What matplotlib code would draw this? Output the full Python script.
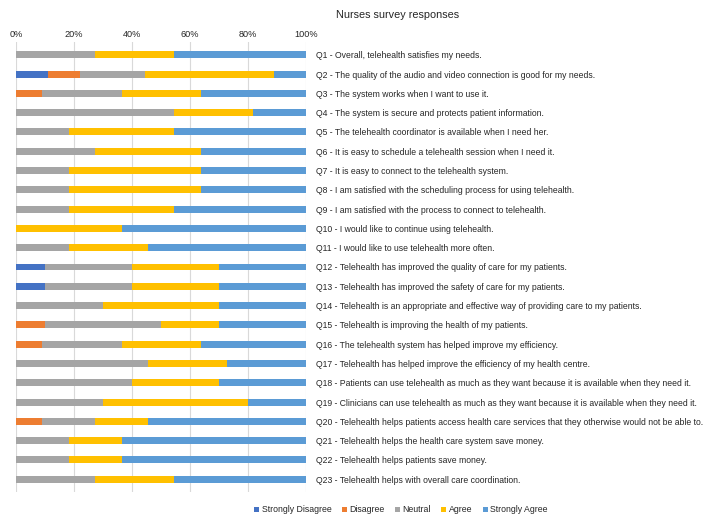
# Nurses survey responses - 100% stacked horizontal bars
import matplotlib
matplotlib.use("Agg")
import matplotlib.pyplot as plt
import numpy as np

questions = [
    "Q1 - Overall, telehealth satisfies my needs.",
    "Q2 - The quality of the audio and video connection is good for my needs.",
    "Q3 - The system works when I want to use it.",
    "Q4 - The system is secure and protects patient information.",
    "Q5 - The telehealth coordinator is available when I need her.",
    "Q6 - It is easy to schedule a telehealth session when I need it.",
    "Q7 - It is easy to connect to the telehealth system.",
    "Q8 - I am satisfied with the scheduling process for using telehealth.",
    "Q9 - I am satisfied with the process to connect to telehealth.",
    "Q10 - I would like to continue using telehealth.",
    "Q11 - I would like to use telehealth more often.",
    "Q12 - Telehealth has improved the quality of care for my patients.",
    "Q13 - Telehealth has improved the safety of care for my patients.",
    "Q14 - Telehealth is an appropriate and effective way of providing care to my patients.",
    "Q15 - Telehealth is improving the health of my patients.",
    "Q16 - The telehealth system has helped improve my efficiency.",
    "Q17 - Telehealth has helped improve the efficiency of my health centre.",
    "Q18 - Patients can use telehealth as much as they want because it is available when they need it.",
    "Q19 - Clinicians can use telehealth as much as they want because it is available when they need it.",
    "Q20 - Telehealth helps patients access health care services that they otherwise would not be able to.",
    "Q21 - Telehealth helps the health care system save money.",
    "Q22 - Telehealth helps patients save money.",
    "Q23 - Telehealth helps with overall care coordination.",
]

# percentages
strongly_disagree = [0, 11.1, 0, 0, 0, 0, 0, 0, 0, 0, 0, 10, 10, 0, 0, 0, 0, 0, 0, 0, 0, 0, 0]
disagree = [0, 11.1, 9.1, 0, 0, 0, 0, 0, 0, 0, 0, 0, 0, 0, 10, 9.1, 0, 0, 0, 9.1, 0, 0, 0]
neutral = [27.3, 22.2, 27.3, 54.5, 18.2, 27.3, 18.2, 18.2, 18.2, 0, 18.2, 30, 30, 30, 40,
           27.3, 45.5, 40, 30, 18.2, 18.2, 18.2, 27.3]
agree = [27.3, 44.4, 27.3, 27.3, 36.4, 36.4, 45.5, 45.5, 36.4, 36.4, 27.3, 30, 30, 40, 20,
         27.3, 27.3, 30, 50, 18.2, 18.2, 18.2, 27.3]
strongly_agree = [45.4, 11.2, 36.3, 18.2, 45.4, 36.3, 36.3, 36.3, 45.4, 63.6, 54.5, 30, 30, 30, 30,
                  36.3, 27.2, 30, 20, 54.5, 63.6, 63.6, 45.4]

series = ["Strongly Disagree", "Disagree", "Neutral", "Agree", "Strongly Agree"]
colors = ["#4472C4", "#ED7D31", "#A5A5A5", "#FFC000", "#5B9BD5"]

plt.rcParams['font.family'] = ['Liberation Sans', 'DejaVu Sans']
txt = "#262626"

fig = plt.figure(figsize=(7.28, 5.23), dpi=100)
ax = fig.add_axes([16 / 728, 1 - 492 / 523, 290 / 728, 450 / 523])

y = np.arange(len(questions))
left = np.zeros(len(questions))
for name, vals, c in zip(series, [strongly_disagree, disagree, neutral, agree, strongly_agree], colors):
    vals = np.array(vals)
    ax.barh(y, vals, left=left, height=0.36, color=c, label=name, zorder=3)
    left += vals

ax.set_xlim(0, 100)
ax.set_ylim(len(questions) - 0.34, -0.66)
ax.set_xticks([0, 20, 40, 60, 80, 100])
ax.set_xticklabels(["0%", "20%", "40%", "60%", "80%", "100%"], fontsize=6.6, color=txt)
ax.xaxis.tick_top()
ax.tick_params(axis='x', length=0, pad=2)
ax.set_yticks(y)
ax.set_yticklabels(questions, fontsize=6.2, color=txt)
ax.yaxis.tick_right()
ax.tick_params(axis='y', length=0, pad=7)
ax.grid(axis='x', color="#d9d9d9", linewidth=0.8, zorder=0)
for s in ax.spines.values():
    s.set_visible(False)

fig.text(398 / 728, 1 - 15 / 523, "Nurses survey responses", ha='center', va='center',
         fontsize=7.8, color=txt)

fig.legend(loc='center', bbox_to_anchor=(401 / 728, 1 - 510 / 523), ncol=5, frameon=False,
           fontsize=6.3, handlelength=0.55, handleheight=0.55, handletextpad=0.3,
           columnspacing=1.2, labelcolor=txt)

fig.savefig("out.png", dpi=100)
